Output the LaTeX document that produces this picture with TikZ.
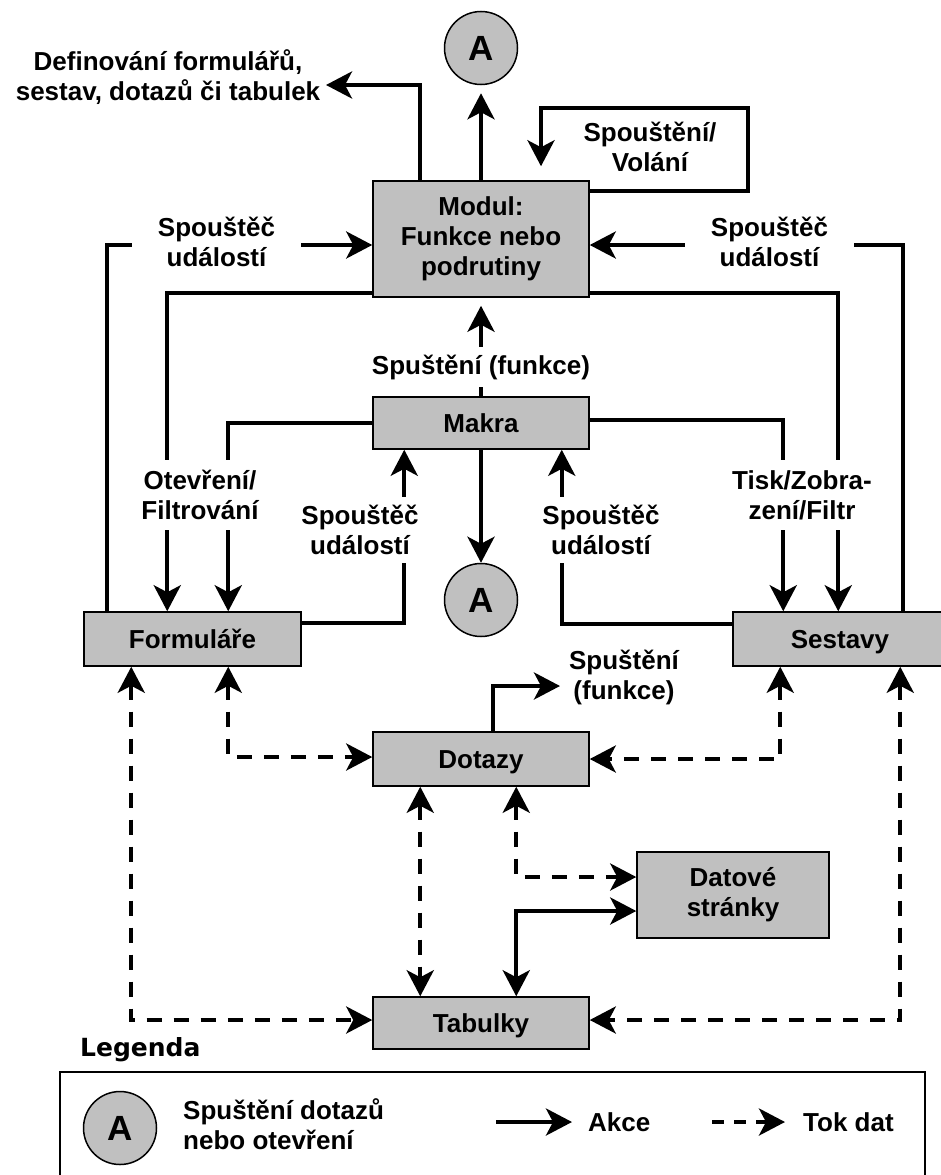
\documentclass[tikz,border=0pt]{standalone}
\usepackage{fontspec}
\setmainfont{Liberation Sans}
\newfontfamily\legendafont{DejaVu Sans}
\usetikzlibrary{arrows.meta, calc}
\definecolor{boxgray}{RGB}{192,192,192}
\newcommand{\lblfont}{\fontsize{26}{30}\selectfont\bfseries}

\begin{document}
\begin{tikzpicture}[x=1pt,y=-1pt,
		>={Stealth[length=26pt,width=27pt,inset=7pt]},
		box/.style={draw, line width=1.5pt, fill=boxgray, font=\lblfont, align=center, inner sep=0pt},
		linebox/.style={box, text height=18.6pt, text depth=0pt},
		circ/.style={circle, draw, line width=1.5pt, fill=boxgray, inner sep=0pt, minimum size=73pt, font=\fontsize{35}{35}\selectfont\bfseries},
		act/.style={line width=4pt, ->},
		flow/.style={line width=4pt, dash pattern=on 15pt off 12pt, <->},
		lbl/.style={fill=white, font=\lblfont, align=center, inner xsep=4pt, inner ysep=8pt}]
		\useasboundingbox (0,0) rectangle (941,1175);
		\clip (0,0) rectangle (941,1175);

		\node[box, minimum width=216pt, minimum height=116pt] (modul) at (481,239) {Modul:\\Funkce nebo\\podrutiny};
		\node[linebox, minimum width=216pt, minimum height=52pt] (makra) at (481,423) {Makra};
		\node[linebox, minimum width=217pt, minimum height=54pt] (formulare) at (192.5,639) {Formuláře};
		\node[linebox, minimum width=214pt, minimum height=54pt] (sestavy) at (840,639) {Sestavy};
		\node[linebox, minimum width=216pt, minimum height=54pt] (dotazy) at (481,759) {Dotazy};
		\node[box, minimum width=192pt, minimum height=86pt] (datove) at (733,895) {Datové\\stránky};
		\node[linebox, minimum width=216pt, minimum height=52pt] (tabulky) at (481,1023) {Tabulky};
		\node[circ] (atop) at (481,48) {A};
		\node[circ] (amid) at (481,600) {A};

		\coordinate (deftip) at (326,85);
		\coordinate (volcorner) at (748,108);
		\coordinate (funtip) at (560,686);

		\draw[act, shorten >=8pt] (modul.north) -- (atop.south);
		\draw[act] ([xshift=-61pt]modul.north) |- (deftip);
		\draw[act] ([yshift=-11pt]modul.north east) -| (volcorner) -| ([xshift=60pt,yshift=14pt]modul.north);
		\draw[act] ([xshift=24pt]formulare.north west) |- ([yshift=-6pt]modul.west);
		\draw[act] ([yshift=5pt]modul.south west) -| ([xshift=84pt]formulare.north west);
		\draw[act] (makra.west) -| ([xshift=145pt]formulare.north west);
		\draw[act] ([xshift=-45pt]sestavy.north east) |- ([yshift=-6pt]modul.east);
		\draw[act] ([yshift=5pt]modul.south east) -| ([xshift=106pt]sestavy.north west);
		\draw[act] ([yshift=3pt]makra.east) -| ([xshift=51pt]sestavy.north west);
		\draw[act, shorten >=8pt] (makra.north) -- (modul.south);
		\draw[act] (makra.south) -- (amid.north);
		\draw[act] ([yshift=16pt]formulare.east) -| ([xshift=32pt]makra.south west);
		\draw[act] ([yshift=15pt]sestavy.west) -| ([xshift=-28pt]makra.south east);
		\draw[act] ([xshift=12pt]dotazy.north) |- (funtip);
		\draw[act, <->] ([yshift=-16pt]datove.west) -| ([xshift=144pt]tabulky.north west);

		\draw[flow] ([xshift=145pt]formulare.south west) |- ([yshift=2pt]dotazy.west);
		\draw[flow] ([xshift=48pt]formulare.south west) |- ([yshift=3pt]tabulky.west);
		\draw[flow] ([xshift=48pt]sestavy.south west) |- (dotazy.east);
		\draw[flow] ([xshift=168pt]sestavy.south west) |- ([yshift=3pt]tabulky.east);
		\draw[flow] ([xshift=48pt]dotazy.south west) -- ([xshift=48pt]tabulky.north west);
		\draw[flow] ([xshift=144pt]dotazy.south west) |- ([yshift=18pt]datove.west);

		\node[lbl, inner xsep=26pt, inner ysep=2pt] (spleft) at (216.5,242) {Spouštěč\\událostí};
		\node[lbl, inner xsep=26pt, inner ysep=2pt] (spright) at (769.5,242) {Spouštěč\\událostí};
		\node[lbl, inner ysep=10pt] (otev) at (200,495) {Otevření/\\Filtrování};
		\node[lbl, inner ysep=10pt] (tisk) at (802,495) {Tisk/Zobra-\\zení/Filtr};
		\node[lbl] (spfunkce) at (481,367) {Spuštění (funkce)};
		\node[lbl] (splowleft) at (360,530) {Spouštěč\\událostí};
		\node[lbl] (splowright) at (601,530) {Spouštěč\\událostí};
		\node[font=\lblfont, align=center] (funlab) at (624,677) {Spuštění\\(funkce)};
		\node[font=\lblfont, align=center] (vollab) at (650,147) {Spouštění/\\Volání};
		\node[font=\lblfont, align=center] (deflab) at (168,77) {Definování formulářů,\\sestav, dotazů či tabulek};

		\draw[line width=2pt] (60,1072) rectangle (925,1190);
		\node[anchor=west, inner sep=0pt, font={\legendafont\fontsize{25}{25}\selectfont\bfseries}] (legenda) at (80,1050) {Legenda};
		\node[circ] (lega) at (120,1128) {A};
		\node[anchor=west, inner sep=0pt, font=\lblfont, align=left] (legtext) at (183,1124) {Spuštění dotazů\\nebo otevření};
		\coordinate (akfrom) at (496,1122);
		\coordinate (akto) at (572,1122);
		\draw[act] (akfrom) -- (akto);
		\node[anchor=west, inner sep=0pt, font=\lblfont] (akce) at (588,1122) {Akce};
		\coordinate (tokfrom) at (712,1122);
		\coordinate (tokto) at (785,1122);
		\draw[line width=4pt, dash pattern=on 12pt off 10pt, ->] (tokfrom) -- (tokto);
		\node[anchor=west, inner sep=0pt, font=\lblfont] (tokdat) at (803,1122) {Tok dat};
	\end{tikzpicture}
\end{document}
